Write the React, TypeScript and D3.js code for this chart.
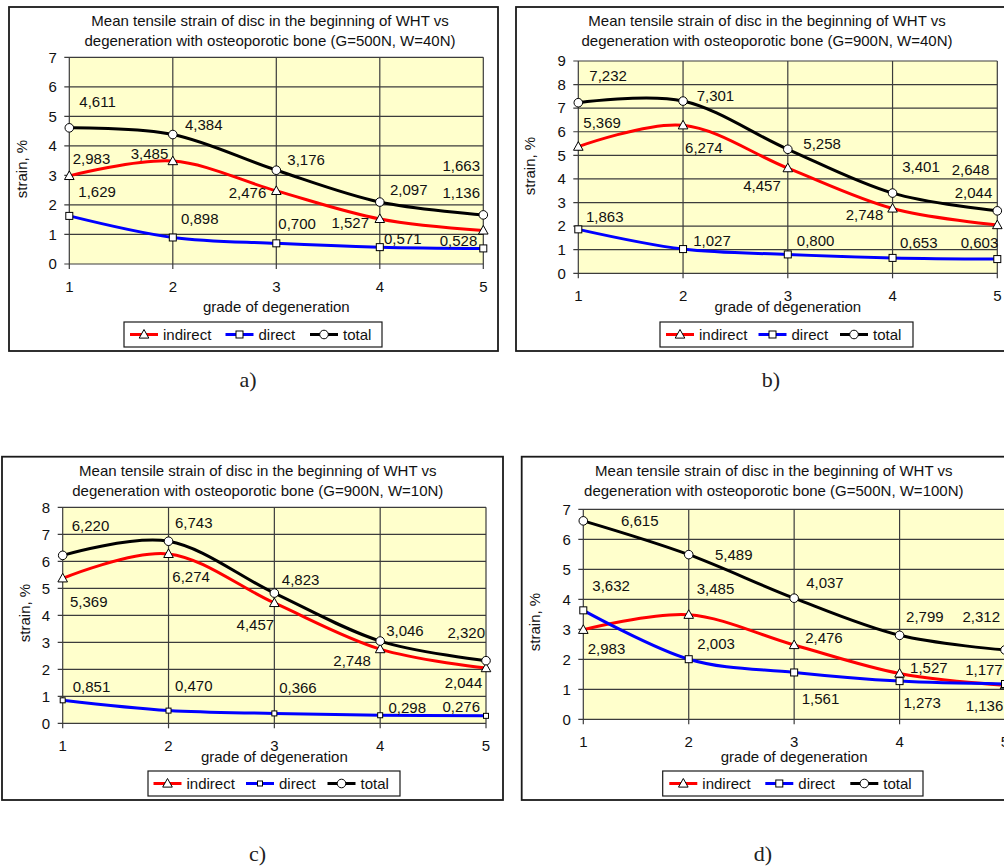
import React from 'react';
import * as d3 from 'd3';

// ---------- data ----------
const grades = [1, 2, 3, 4, 5];
const seriesNames = ['indirect', 'direct', 'total'];
const titleLine1 = 'Mean tensile strain of disc in the beginning of WHT vs';
const titleLine2 = [
  'degeneration with osteoporotic bone (G=500N, W=40N)',
  'degeneration with osteoporotic bone (G=900N, W=40N)',
  'degeneration with osteoporotic bone (G=900N, W=10N)',
  'degeneration with osteoporotic bone (G=500N, W=100N)',
];
const xAxisTitle = 'grade of degeneration';
const yAxisTitle = 'strain, %';
const captions = ['a)', 'b)', 'c)', 'd)'];
const yMaxes = [7, 9, 8, 7];

const indirectA = [2.983, 3.485, 2.476, 1.527, 1.136];
const directA = [1.629, 0.898, 0.7, 0.571, 0.528];
const totalA = [4.611, 4.384, 3.176, 2.097, 1.663];

const indirectB = [5.369, 6.274, 4.457, 2.748, 2.044];
const directB = [1.863, 1.027, 0.8, 0.653, 0.603];
const totalB = [7.232, 7.301, 5.258, 3.401, 2.648];

const indirectC = [5.369, 6.274, 4.457, 2.748, 2.044];
const directC = [0.851, 0.47, 0.366, 0.298, 0.276];
const totalC = [6.22, 6.743, 4.823, 3.046, 2.32];

const indirectD = [2.983, 3.485, 2.476, 1.527, 1.136];
const directD = [3.632, 2.003, 1.561, 1.273, 1.177];
const totalD = [6.615, 5.489, 4.037, 2.799, 2.312];

// ---------- styles / layout ----------
const colors = ['#ff0000', '#0000ff', '#000000'];
const markerTypes = ['triangle', 'square', 'circle'];
const FONT = '"Liberation Sans", Arial, Helvetica, sans-serif';
const fmt = d3
  .formatLocale({ decimal: ',', thousands: ' ', grouping: [3], currency: ['', ''] })
  .format('.3f');

type Off = [number, number, 's' | 'e'];

const panels = [
  {
    data: [indirectA, directA, totalA],
    frame: { x: 9, y: 7, w: 489, h: 344 },
    plot: { l: 69.3, r: 483.3, t: 57.3, b: 264 },
    titleX: 270, titleY: 20.7,
    yTitle: { x: 22, y: 169 },
    xTitleY: 307,
    legend: { x: 124, y: 322, w: 258, h: 25, pad: 6, gap: 13.5 },
    caption: { x: 248, y: 379 },
    sq: 7,
    offs: [
      [[3.4, -17, 's'], [-4.5, -7, 'e'], [-10, 1.7, 'e'], [-10.8, 3.7, 'e'], [-3.3, -37.8, 'e']],
      [[9, -24, 's'], [8.2, -18.5, 's'], [2, -20, 's'], [4.2, -8, 's'], [-6, -7.4, 'e']],
      [[10, -26.3, 's'], [12.2, -9.7, 's'], [11, -10.3, 's'], [10.2, -12, 's'], [-3.3, -49.2, 'e']],
    ] as Off[][],
  },
  {
    data: [indirectB, directB, totalB],
    frame: { x: 516, y: 7, w: 510, h: 344 },
    plot: { l: 578.3, r: 997.3, t: 61, b: 273.3 },
    titleX: 767, titleY: 20.7,
    yTitle: { x: 530, y: 166 },
    xTitleY: 307,
    legend: { x: 660, y: 322, w: 253, h: 25, pad: 6, gap: 10.5 },
    caption: { x: 771, y: 379 },
    sq: 7,
    offs: [
      [[5, -24.3, 's'], [2, 22, 's'], [-7, 17.6, 'e'], [-9.3, 6.6, 'e'], [-5, -32.4, 'e']],
      [[7.7, -12.6, 's'], [10.2, -8.4, 's'], [9, -13.7, 's'], [7.4, -15.6, 's'], [1, -16.8, 'e']],
      [[11, -26.6, 's'], [13.6, -5, 's'], [15.5, -6, 's'], [9.7, -26.3, 's'], [-8, -40.8, 'e']],
    ] as Off[][],
  },
  {
    data: [indirectC, directC, totalC],
    frame: { x: 2, y: 456.7, w: 501, h: 343.3 },
    plot: { l: 62.7, r: 486, t: 507.3, b: 723.3 },
    titleX: 257.8, titleY: 470.7,
    yTitle: { x: 25, y: 613 },
    xTitleY: 757,
    legend: { x: 148, y: 771, w: 252, h: 25, pad: 5.5, gap: 10.5 },
    caption: { x: 257.5, y: 853 },
    sq: 5,
    offs: [
      [[7.3, 23.4, 's'], [3.8, 22.8, 's'], [-0.2, 21.3, 'e'], [-9.3, 11.6, 'e'], [-3.7, 14.2, 'e']],
      [[10, -13.6, 's'], [6.5, -25, 's'], [4.8, -25.7, 's'], [8.3, -8, 's'], [-6, -9, 'e']],
      [[9, -29.4, 's'], [6.5, -18.5, 's'], [7.5, -13, 's'], [6, -10.4, 's'], [-1, -28, 'e']],
    ] as Off[][],
  },
  {
    data: [indirectD, directD, totalD],
    frame: { x: 521.7, y: 456.7, w: 510, h: 343.3 },
    plot: { l: 583.3, r: 1005, t: 509.3, b: 719.3 },
    titleX: 773.8, titleY: 470.7,
    yTitle: { x: 535, y: 622 },
    xTitleY: 757,
    legend: { x: 662.7, y: 771, w: 260.3, h: 25, pad: 6.6, gap: 14 },
    caption: { x: 763, y: 853 },
    sq: 7,
    offs: [
      [[4.4, 19.2, 's'], [8, -25.8, 's'], [11, -7.3, 's'], [10.5, -6.2, 's'], [-1.7, 20.5, 'e']],
      [[9, -24.6, 's'], [8.6, -15.9, 's'], [7.6, 25.8, 's'], [3.8, 21.6, 's'], [-2.3, -14, 'e']],
      [[37.7, 0, 's'], [26.3, 0, 's'], [12, -15, 's'], [6.5, -18.6, 's'], [-5, -33.3, 'e']],
    ] as Off[][],
  },
];

const legendTextW = [49, 38, 28.5];

function Marker({ type, cx, cy, sq }: { type: string; cx: number; cy: number; sq: number }) {
  const common = { fill: '#ffffff', stroke: '#000000', strokeWidth: 1 };
  if (type === 'triangle') {
    const p = `${cx},${cy - 5} ${cx - 4.8},${cy + 3.6} ${cx + 4.8},${cy + 3.6}`;
    return <polygon points={p} {...common} />;
  }
  if (type === 'square') {
    return <rect x={cx - sq / 2} y={cy - sq / 2} width={sq} height={sq} {...common} />;
  }
  return <circle cx={cx} cy={cy} r={4.3} {...common} />;
}

function Panel({ p, idx }: { p: (typeof panels)[number]; idx: number }) {
  const x = d3.scaleLinear().domain([1, 5]).range([p.plot.l, p.plot.r]);
  const y = d3.scaleLinear().domain([0, yMaxes[idx]]).range([p.plot.b, p.plot.t]);
  const yTicks = d3.range(0, yMaxes[idx] + 1);
  const line = d3
    .line<number>()
    .x((_, i) => x(grades[i]))
    .y((v) => y(v))
    .curve(d3.curveCardinal.tension(0));
  const gridColor = '#3c3c3c';

  // legend layout
  const items: { lx: number; tx: number }[] = [];
  let cur = p.legend.x + p.legend.pad;
  seriesNames.forEach((_, i) => {
    items.push({ lx: cur, tx: cur + 33 });
    cur = cur + 33 + legendTextW[i] + p.legend.gap;
  });
  const ly = p.legend.y + p.legend.h / 2;

  return (
    <g>
      <rect x={p.frame.x} y={p.frame.y} width={p.frame.w} height={p.frame.h} fill="#ffffff" stroke="#1a1a1a" strokeWidth={1.8} />
      <text x={p.titleX} y={p.titleY} dy="0.35em" textAnchor="middle" fontSize={15} fill="#111">
        {titleLine1}
      </text>
      <text x={p.titleX} y={p.titleY + 20} dy="0.35em" textAnchor="middle" fontSize={15} fill="#111">
        {titleLine2[idx]}
      </text>
      <rect x={p.plot.l} y={p.plot.t} width={p.plot.r - p.plot.l} height={p.plot.b - p.plot.t} fill="#ffffcc" />
      {yTicks.map((t) => (
        <g key={'y' + t}>
          <line x1={p.plot.l - 5} x2={p.plot.r} y1={y(t)} y2={y(t)} stroke={gridColor} strokeWidth={1.2} />
          <text x={p.plot.l - 12.5} y={y(t)} dy="0.35em" textAnchor="end" fontSize={15} fill="#111">
            {t}
          </text>
        </g>
      ))}
      {grades.map((g) => (
        <g key={'x' + g}>
          <line x1={x(g)} x2={x(g)} y1={p.plot.t} y2={p.plot.b + 5} stroke={gridColor} strokeWidth={1.2} />
          <text x={x(g)} y={p.plot.b + 22.5} dy="0.35em" textAnchor="middle" fontSize={15} fill="#111">
            {g}
          </text>
        </g>
      ))}
      <text x={(p.plot.l + p.plot.r) / 2} y={p.xTitleY} dy="0.35em" textAnchor="middle" fontSize={15} fill="#111">
        {xAxisTitle}
      </text>
      <text
        transform={`translate(${p.yTitle.x},${p.yTitle.y}) rotate(-90)`}
        dy="0.35em"
        textAnchor="middle"
        fontSize={15}
        fill="#111"
      >
        {yAxisTitle}
      </text>
      {p.data.map((vals, si) => (
        <g key={'s' + si}>
          <path d={line(vals) || ''} fill="none" stroke={colors[si]} strokeWidth={3} strokeLinejoin="round" />
          {vals.map((v, i) => (
            <Marker key={i} type={markerTypes[si]} cx={x(grades[i])} cy={y(v)} sq={p.sq} />
          ))}
        </g>
      ))}
      {p.data.map((vals, si) =>
        vals.map((v, i) => {
          const o = p.offs[si][i];
          return (
            <text
              key={`l${si}-${i}`}
              x={x(grades[i]) + o[0]}
              y={y(v) + o[1]}
              dy="0.35em"
              textAnchor={o[2] === 's' ? 'start' : 'end'}
              fontSize={15}
              fill="#111"
            >
              {fmt(v)}
            </text>
          );
        })
      )}
      <rect x={p.legend.x} y={p.legend.y} width={p.legend.w} height={p.legend.h} fill="#ffffff" stroke="#1a1a1a" strokeWidth={1.2} />
      {seriesNames.map((n, i) => (
        <g key={'lg' + i}>
          <line x1={items[i].lx} x2={items[i].lx + 28} y1={ly} y2={ly} stroke={colors[i]} strokeWidth={3} />
          <Marker type={markerTypes[i]} cx={items[i].lx + 14} cy={ly} sq={p.sq} />
          <text x={items[i].tx} y={ly} dy="0.35em" fontSize={15} fill="#111">
            {n}
          </text>
        </g>
      ))}
      <text
        x={p.caption.x}
        y={p.caption.y}
        dy="0.35em"
        textAnchor="middle"
        fontSize={22}
        fill="#222"
        fontFamily='"Liberation Serif", "DejaVu Serif", serif'
      >
        {captions[idx]}
      </text>
    </g>
  );
}

export default function App() {
  return (
    <svg
      width={1004}
      height={868}
      style={{ position: 'absolute', left: 0, top: 0, background: '#ffffff' }}
      fontFamily={FONT}
    >
      <rect x={0} y={0} width={1004} height={868} fill="#ffffff" />
      {panels.map((p, i) => (
        <Panel key={i} p={p} idx={i} />
      ))}
    </svg>
  );
}
